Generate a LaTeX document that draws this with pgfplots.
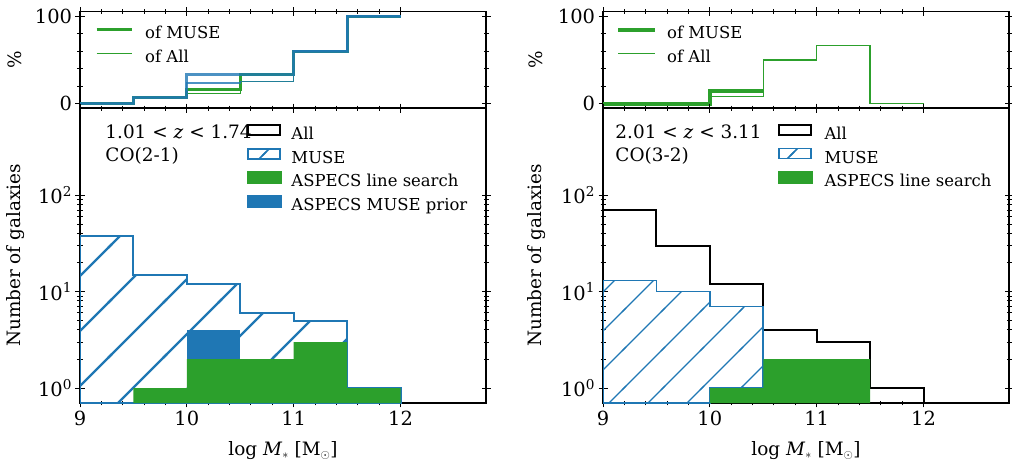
\documentclass[border=0pt]{standalone}
\usepackage{pgfplots}
\pgfplotsset{compat=1.18}
\usepackage{fontspec}
\setmainfont{DejaVu Serif}
\usetikzlibrary{patterns}
\definecolor{mgreen}{HTML}{2CA02C}
\definecolor{mblue}{HTML}{1F77B4}
\pgfdeclarepatternformonly{hatchL}{\pgfpoint{-3bp}{-3bp}}{\pgfpoint{58bp}{58bp}}{\pgfpoint{55bp}{55bp}}{%
  \pgfsetlinewidth{2.3bp}%
  \pgfpathmoveto{\pgfpoint{-2bp}{-2bp}}\pgfpathlineto{\pgfpoint{57bp}{57bp}}\pgfusepath{stroke}}
\pgfdeclarepatternformonly{hatchR}{\pgfpoint{-3bp}{-3bp}}{\pgfpoint{42bp}{42bp}}{\pgfpoint{39bp}{39bp}}{%
  \pgfsetlinewidth{1.2bp}%
  \pgfpathmoveto{\pgfpoint{-2bp}{-2bp}}\pgfpathlineto{\pgfpoint{41bp}{41bp}}\pgfusepath{stroke}}
\pgfdeclarepatternformonly{hatchLeg}{\pgfpoint{-3bp}{-3bp}}{\pgfpoint{27bp}{27bp}}{\pgfpoint{24bp}{24bp}}{%
  \pgfsetlinewidth{1.6bp}%
  \pgfpathmoveto{\pgfpoint{-2bp}{-2bp}}\pgfpathlineto{\pgfpoint{26bp}{26bp}}\pgfusepath{stroke}}
\newcommand{\labfont}{\fontsize{18.5}{22}\selectfont}
\newcommand{\annfont}{\fontsize{18.5}{22}\selectfont}
\pgfplotsset{
  mybase/.style={
    scale only axis, width=406bp,
    xmin=9, xmax=12.8, xtick={9,10,11,12}, minor x tick num=4,
    tick align=center, major tick length=9bp, minor tick length=5bp,
    every tick/.style={black, line width=1bp},
    axis line style={line width=1.4bp},
    tick label style={font=\fontsize{19.5}{23}\selectfont},
    /pgf/number format/assume math mode=true,
    legend cell align=left,
  },
  mytop/.style={mybase, height=96.3bp, ymin=-5, ymax=105, ytick={0,100}, minor y tick num=4, xticklabels={},
    ylabel={\%}},
  mybot/.style={mybase, height=295bp, ymin=0.7, ymax=800, ytick={1,10,100},
    yticklabels={10\textsuperscript{0},10\textsuperscript{1},10\textsuperscript{2}},
    xticklabels={9,10,11,12},
    xlabel={log \textit{M}\textsubscript{$*$} [M\textsubscript{$\odot$}]}, ylabel={Number of galaxies},
    every axis x label/.style={at={(axis description cs:0.5,-0.162)}, anchor=center, font=\labfont}},
  myleg/.style 2 args={legend style={at={#1}, anchor=north west, draw=none, fill=none, inner sep=0pt,
    font=\fontsize{16.5}{19}\selectfont, row sep=3bp,
    nodes={inner sep=0pt, text height=12bp, text depth=5bp},
    /tikz/every odd column/.append style={column sep=#2}}},
}
\begin{document}
\begin{tikzpicture}
\useasboundingbox (0,0) rectangle (1012bp,-466bp);
% ---------------- left top
\begin{axis}[mytop, at={(80bp,-108bp)}, anchor=south west,
  every axis y label/.style={at={(axis description cs:-0.160,0.5)}, rotate=90, anchor=center, font=\labfont},
  myleg={(axis description cs:0.037,0.851)}{12bp}, legend style={row sep=7bp}]
\addplot[const plot, mgreen, line width=3bp, forget plot] coordinates {(9,0)(9.5,6.7)(10,16.7)(10.5,33.3)(11,60)(11.5,100)(12,100)};
\addplot[const plot, mgreen, line width=1.3bp, forget plot] coordinates {(9,0)(9.5,6.7)(10,11.8)(10.5,25)(11,60)(11.5,100)(12,100)};
\addplot[const plot, mblue, opacity=0.8, line width=3bp, forget plot] coordinates {(9,0)(9.5,6.7)(10,33.3)(11,60)(11.5,100)(12,100)};
\addplot[const plot, mblue, opacity=0.8, line width=1.3bp, forget plot] coordinates {(9,0)(9.5,6.7)(10,23.5)(10.5,25)(11,60)(11.5,100)(12,100)};
\addlegendimage{legend image code/.code={\draw[mgreen, line width=3bp] (0bp,5bp) -- (35bp,5bp);}}
\addlegendentry{of MUSE}
\addlegendimage{legend image code/.code={\draw[mgreen, line width=1.3bp] (0bp,5bp) -- (35bp,5bp);}}
\addlegendentry{of All}
\end{axis}
% ---------------- left bottom
\begin{axis}[mybot, ymode=log, at={(80bp,-403bp)}, anchor=south west,
  every axis y label/.style={at={(axis description cs:-0.158,0.5)}, rotate=90, anchor=center, font=\labfont},
  myleg={(axis description cs:0.411,0.946)}{10bp}]
\addplot[draw=mblue, line width=2bp, pattern=hatchL, pattern color=mblue, forget plot]
  coordinates {(9,0.7)(9,38)(9.5,38)(9.5,15)(10,15)(10,12)(10.5,12)(10.5,6)(11,6)(11,5)(11.5,5)(11.5,1)(12,1)(12,0.7)} -- cycle;
\addplot[fill=mgreen, draw=none, forget plot]
  coordinates {(9.5,0.7)(9.5,1)(10,1)(10,2)(11,2)(11,3)(11.5,3)(11.5,1)(12,1)(12,0.7)} -- cycle;
\addplot[fill=mblue, draw=none, forget plot] coordinates {(10,2)(10,4)(10.5,4)(10.5,2)} -- cycle;
\node[anchor=base west, font=\annfont] at (axis description cs:0.054,0.898) {1.01 < \textit{z} < 1.74};
\node[anchor=base west, font=\annfont] at (axis description cs:0.054,0.820) {CO(2-1)};
\addlegendimage{legend image code/.code={\draw[black, line width=2bp] (1bp,1bp) rectangle (33bp,11bp);}}
\addlegendentry{All}
\addlegendimage{legend image code/.code={\draw[mblue, line width=2bp, pattern=hatchLeg, pattern color=mblue] (1bp,1bp) rectangle (33bp,11bp);}}
\addlegendentry{MUSE}
\addlegendimage{legend image code/.code={\fill[mgreen] (0bp,0bp) rectangle (34bp,12bp);}}
\addlegendentry{ASPECS line search}
\addlegendimage{legend image code/.code={\fill[mblue] (0bp,0bp) rectangle (34bp,12bp);}}
\addlegendentry{ASPECS MUSE prior}
\end{axis}
% ---------------- right top
\begin{axis}[mytop, at={(603bp,-108bp)}, anchor=south west,
  every axis y label/.style={at={(axis description cs:-0.165,0.5)}, rotate=90, anchor=center, font=\labfont},
  myleg={(axis description cs:0.032,0.851)}{10bp}, legend style={row sep=7bp}]
\addplot[const plot, mgreen, line width=1.3bp, forget plot] coordinates {(9,0)(9.5,0)(10,8.3)(10.5,50)(11,66.7)(11.5,0)(12,0)};
\addplot[const plot, mgreen, line width=4bp, forget plot] coordinates {(9,0)(10,14.3)(10.5,14.3)};
\addlegendimage{legend image code/.code={\draw[mgreen, line width=4bp] (0bp,5bp) -- (37bp,5bp);}}
\addlegendentry{of MUSE}
\addlegendimage{legend image code/.code={\draw[mgreen, line width=1.3bp] (0bp,5bp) -- (37bp,5bp);}}
\addlegendentry{of All}
\end{axis}
% ---------------- right bottom
\begin{axis}[mybot, ymode=log, at={(603bp,-403bp)}, anchor=south west,
  every axis y label/.style={at={(axis description cs:-0.163,0.5)}, rotate=90, anchor=center, font=\labfont},
  myleg={(axis description cs:0.431,0.946)}{12bp}]
\addplot[black, line width=2bp, forget plot]
  coordinates {(9,0.7)(9,70)(9.5,70)(9.5,30)(10,30)(10,12)(10.5,12)(10.5,4)(11,4)(11,3)(11.5,3)(11.5,1)(12,1)(12,0.7)};
\addplot[draw=mblue, line width=1.8bp, pattern=hatchR, pattern color=mblue, forget plot]
  coordinates {(9,0.7)(9,13)(9.5,13)(9.5,10)(10,10)(10,7)(10.5,7)(10.5,1)(10,1)(10,0.7)} -- cycle;
\addplot[fill=mgreen, draw=none, forget plot]
  coordinates {(10,0.7)(10,1)(10.5,1)(10.5,2)(11.5,2)(11.5,0.7)} -- cycle;
\node[anchor=base west, font=\annfont] at (axis description cs:0.022,0.898) {2.01 < \textit{z} < 3.11};
\node[anchor=base west, font=\annfont] at (axis description cs:0.022,0.820) {CO(3-2)};
\addlegendimage{legend image code/.code={\draw[black, line width=2bp] (1bp,1bp) rectangle (33bp,11bp);}}
\addlegendentry{All}
\addlegendimage{legend image code/.code={\draw[mblue, line width=1.8bp, pattern=hatchLeg, pattern color=mblue] (1bp,1bp) rectangle (33bp,11bp);}}
\addlegendentry{MUSE}
\addlegendimage{legend image code/.code={\fill[mgreen] (0bp,0bp) rectangle (34bp,12bp);}}
\addlegendentry{ASPECS line search}
\end{axis}
\end{tikzpicture}
\end{document}
